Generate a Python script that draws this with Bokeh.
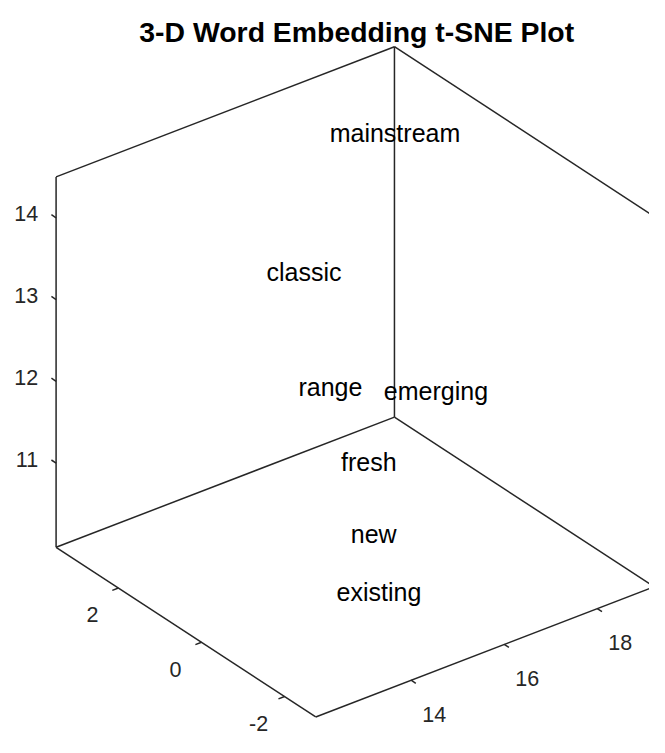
import numpy as np
from bokeh.plotting import figure
from bokeh.models import ColumnDataSource, Range1d, Label
from bokeh.embed import file_html
from bokeh.resources import INLINE
from bokeh.core.properties import value

# ---- data ----
words = ["mainstream", "classic", "range", "emerging", "fresh", "new", "existing"]
x_vals = [17.83, 15.24, 15.14, 16.47, 15.25, 14.99, 14.63]
y_vals = [1.93, 1.22, 0.47, -0.58, -0.33, -0.74, -1.27]
z_vals = [14.27, 13.37, 12.24, 12.24, 11.56, 10.88, 10.42]

x_lim = [11.95, 19.22]
y_lim = [-2.75, 3.50]
z_lim = [9.97, 14.50]
x_ticks = [14, 16, 18]
y_ticks = [-2, 0, 2]
z_ticks = [11, 12, 13, 14]
title_text = "3-D Word Embedding t-SNE Plot"

AZ, EL = -37.5, 30.0
FONT = "Liberation Sans"
AX_COLOR = "#262626"
TICK_LEN = 0.018


def project_norm(u, v, w):
    a = np.radians(AZ)
    e = np.radians(EL)
    u = np.asarray(u, float); v = np.asarray(v, float); w = np.asarray(w, float)
    X = np.cos(a) * u + np.sin(a) * v
    Y = -np.sin(e) * np.sin(a) * u + np.sin(e) * np.cos(a) * v + np.cos(e) * w
    return X, Y


def norm(vals, lim):
    return (np.asarray(vals, float) - lim[0]) / (lim[1] - lim[0])


def project(x, y, z):
    return project_norm(norm(x, x_lim), norm(y, y_lim), norm(z, z_lim))


p = figure(width=649, height=737, output_backend="svg", toolbar_location=None,
           x_range=Range1d(-0.7391, 0.7826), y_range=Range1d(-0.0481, 1.6751),
           min_border=0, background_fill_color="white", border_fill_color="white")
p.axis.visible = False
p.grid.visible = False
p.outline_line_color = None

# ---- box edges (back planes) ----
corners = {
    "E": (0, 0, 0), "F": (1, 0, 0), "D": (1, 1, 0), "C": (0, 1, 0),
    "B": (0, 1, 1), "A": (1, 1, 1), "G": (1, 0, 1),
}
edges = [("C", "D"), ("D", "A"), ("A", "B"), ("B", "C"), ("D", "F"),
         ("F", "G"), ("G", "A"), ("F", "E"), ("E", "C")]
xs, ys = [], []
for a_, b_ in edges:
    X, Y = project_norm([corners[a_][0], corners[b_][0]],
                        [corners[a_][1], corners[b_][1]],
                        [corners[a_][2], corners[b_][2]])
    xs.append(list(X)); ys.append(list(Y))
p.multi_line(xs=xs, ys=ys, line_color=AX_COLOR, line_width=1.5)

# ---- ticks ----
tx, ty = [], []
ux = norm(x_ticks, x_lim)
for u in ux:
    X, Y = project_norm([u, u], [0, -TICK_LEN], [0, 0])
    tx.append(list(X)); ty.append(list(Y))
vy = norm(y_ticks, y_lim)
for v in vy:
    X, Y = project_norm([0, -TICK_LEN], [v, v], [0, 0])
    tx.append(list(X)); ty.append(list(Y))
wz = norm(z_ticks, z_lim)
for w in wz:
    X, Y = project_norm([0, 0], [1, 1 + TICK_LEN], [w, w])
    tx.append(list(X)); ty.append(list(Y))
p.multi_line(xs=tx, ys=ty, line_color=AX_COLOR, line_width=1.5)

# ---- tick labels ----
X, Y = project_norm(ux, np.zeros(len(ux)), np.zeros(len(ux)))
p.text(x=X, y=Y, text=[str(t) for t in x_ticks], x_offset=23, y_offset=34,
       text_align="center", text_baseline="middle", text_color=AX_COLOR,
       text_font=value(FONT), text_font_size="21.5px")
X, Y = project_norm(np.zeros(len(vy)), vy, np.zeros(len(vy)))
p.text(x=X, y=Y, text=[str(t) for t in y_ticks], x_offset=-26, y_offset=27,
       text_align="center", text_baseline="middle", text_color=AX_COLOR,
       text_font=value(FONT), text_font_size="21.5px")
X, Y = project_norm(np.zeros(len(wz)), np.ones(len(wz)), wz)
p.text(x=X, y=Y, text=[str(t) for t in z_ticks], x_offset=-18, y_offset=-4,
       text_align="right", text_baseline="middle", text_color=AX_COLOR,
       text_font=value(FONT), text_font_size="21.5px")

# ---- word labels ----
WX, WY = project(x_vals, y_vals, z_vals)
src = ColumnDataSource(dict(x=WX, y=WY, word=words))
p.text(x="x", y="y", text="word", source=src, text_align="center",
       text_baseline="middle", text_color="black",
       text_font=value(FONT), text_font_size="25px")

# ---- title ----
p.add_layout(Label(x=0.0961, y=1.6018, text=title_text, text_align="center",
                   text_baseline="alphabetic", text_font=FONT,
                   text_font_size="28.4px", text_font_style="bold",
                   text_color="black"))

open("out.html", "w").write(file_html(p, INLINE))
